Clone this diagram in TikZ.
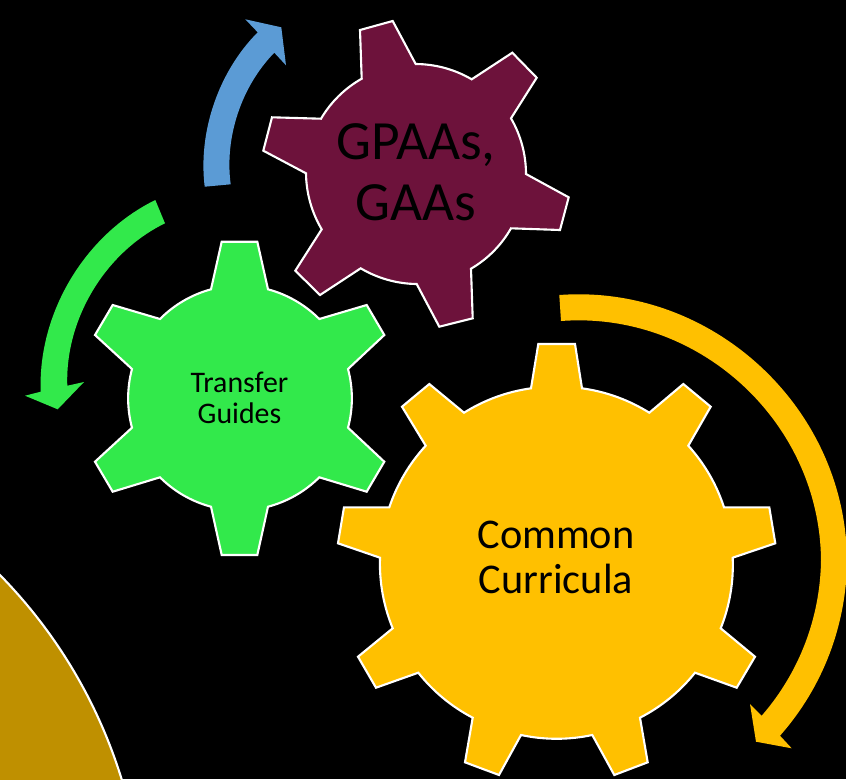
\documentclass[tikz,border=0pt]{standalone}
\usepackage{fontspec}
\setmainfont{Carlito}
\definecolor{gearpurple}{HTML}{6D123B}
\definecolor{geargreen}{HTML}{32E94B}
\definecolor{gearyellow}{HTML}{FFC000}
\definecolor{arrowblue}{HTML}{5B9BD5}
\definecolor{cornergold}{HTML}{BF9000}
\tikzset{
  gearbody/.style={draw=white,line width=1.2pt,line join=miter},
  gap/.style={bend left=#1,looseness=.87},
  gearlabel/.style={align=center,inner sep=0pt,text=black},
}

\begin{document}
\begin{tikzpicture}[x=0.02cm,y=-0.02cm]
    \clip (0,0) rectangle (846,779);
    \fill[black] (0,0) rectangle (846,779);

    % corner
    \draw[gearbody,fill=cornergold] (-3,572) to[gap=14] (122.5,782) -- (-3,782) -- cycle;

    % block arrows
    \fill[arrowblue] (204.7,186.7) to[bend left=26,looseness=.87] (257.7,32.3) -- (245.3,19.3)
      -- (281.3,27.3) -- (286,65.3) -- (274.3,52.7)
      to[bend right=26,looseness=.87] (230.7,184.3) -- cycle;
    \fill[geargreen] (155.3,200) to[bend right=33,looseness=.9] (40.7,391.7) -- (25,395.7)
      -- (57.7,409.3) -- (84,382) -- (67.3,385.7)
      to[bend left=33,looseness=.9] (165,223.3) -- cycle;
    \fill[gearyellow] (559.3,295) to[bend left=47,looseness=1] (847,561)
      to[bend left=20.5,looseness=.88] (780,735.7) -- (791.7,748.3)
      -- (756,741.7) -- (750,704) -- (761.7,715.7)
      to[bend right=20,looseness=.88] (821,561)
      to[bend right=47,looseness=1] (561,321) -- cycle;

    % gears
    \draw[gearbody,fill=gearpurple] (360,30) -- (392.7,21) -- (415.7,64)
      to[gap=15] (471.7,79.3) -- (512.3,52.7) -- (536.7,77.7) -- (511,118.3)
      to[gap=15] (526,174) -- (568.7,197.3) -- (560,230) -- (511,228.3)
      to[gap=15] (471,268.7) -- (472.7,318.3) -- (439.3,326.7) -- (416.7,284)
      to[gap=15] (360.7,268.3) -- (320,295) -- (295.3,270.7) -- (321.7,229.3)
      to[gap=15] (306,173.3) -- (263.3,150.7) -- (272,117.3) -- (321,118.7)
      to[gap=15] (361.7,78.7) -- cycle;
    \draw[gearbody,fill=geargreen] (221.7,241.7) -- (257.3,241.7) -- (268,289.3)
      to[gap=15] (319.3,319) -- (366.7,305) -- (384.3,335) -- (348,369)
      to[gap=15] (348,427.7) -- (384.3,461.7) -- (366.7,491.7) -- (319.3,477.3)
      to[gap=15] (268,506.7) -- (257.3,555) -- (221.7,555) -- (211,506.7)
      to[gap=15] (160,477.3) -- (112.7,491.7) -- (95,461.7) -- (132,427.7)
      to[gap=15] (132,369) -- (95,335) -- (112.7,305) -- (160,319)
      to[gap=15] (211,289.3) -- cycle;
    \draw[gearbody,fill=gearyellow] (538.3,344) -- (575,344) -- (582,388.3)
      to[gap=12] (649.3,412.7) -- (683.3,384) -- (710.7,406.7) -- (688.3,445.7)
      to[gap=12] (724,507.3) -- (769.3,507.3) -- (775.3,543.3) -- (732.7,557.7)
      to[gap=12] (720.7,628.3) -- (755,656.7) -- (736.7,687.7) -- (695,672.7)
      to[gap=12] (640,717.7) -- (647.7,762.3) -- (614.3,775) -- (592.3,735)
      to[gap=12] (521,735) -- (499,775) -- (465,762.3) -- (472.7,717.7)
      to[gap=12] (418.3,672.7) -- (376,687.7) -- (358,656.7) -- (392.7,628.3)
      to[gap=12] (380,557.7) -- (338,543.3) -- (344,507.3) -- (389.3,507.3)
      to[gap=12] (425.7,445.7) -- (402,406.7) -- (429.3,384) -- (464,412.7)
      to[gap=12] (531,388.3) -- cycle;

    \node[gearlabel,font=\fontsize{31.5}{35}\selectfont] (gpaas) at (416,172) {GPAAs,\\GAAs};
    \node[gearlabel,font=\fontsize{17}{17.6}\selectfont] (guides) at (239.5,397.5) {Transfer\\Guides};
    \node[gearlabel,font=\fontsize{24.1}{25.5}\selectfont] (curricula) at (556,557.5) {Common\\Curricula};
\end{tikzpicture}
\end{document}
